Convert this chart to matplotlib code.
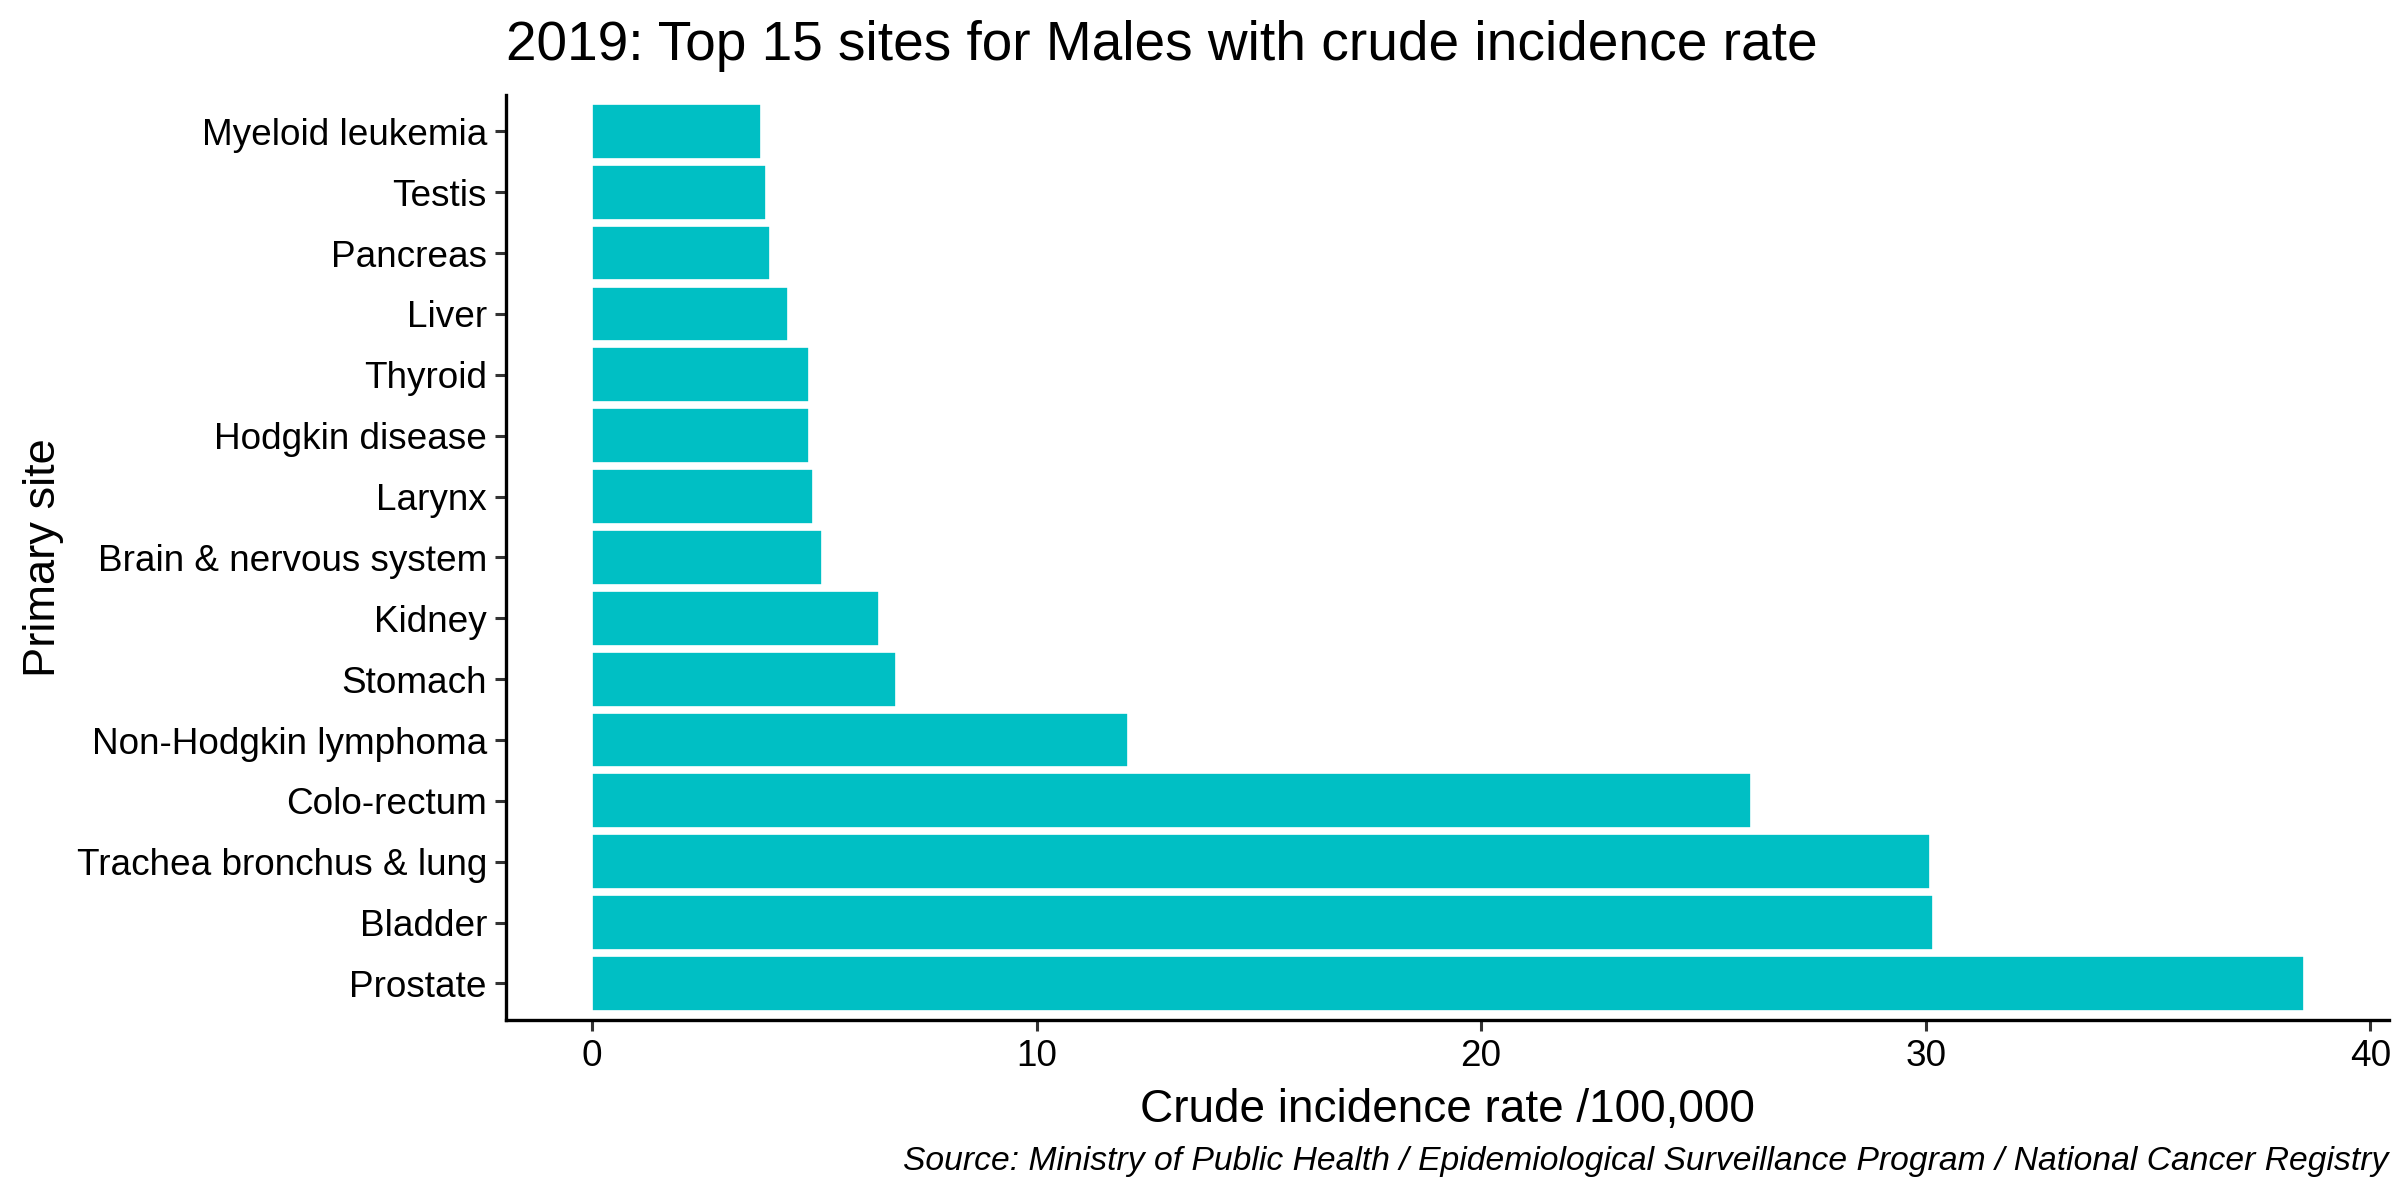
import matplotlib
matplotlib.use("Agg")
import matplotlib.pyplot as plt

plt.rcParams['font.family'] = ['Liberation Sans', 'DejaVu Sans']

# data, top to bottom as drawn
sites = ["Myeloid leukemia", "Testis", "Pancreas", "Liver", "Thyroid",
         "Hodgkin disease", "Larynx", "Brain & nervous system", "Kidney",
         "Stomach", "Non-Hodgkin lymphoma", "Colo-rectum",
         "Trachea bronchus & lung", "Bladder", "Prostate"]
rates = [3.80, 3.91, 4.00, 4.40, 4.89, 4.89, 4.98, 5.18, 6.45, 6.83,
         12.05, 26.08, 30.10, 30.17, 38.50]

bar_color = "#00BFC4"

fig = plt.figure(figsize=(12, 6), dpi=200)
ax = fig.add_axes([0.2110, 0.15, 0.7845, 0.771])

# plot bottom-up so Prostate sits at the bottom
ypos = list(range(len(sites)))[::-1]
ax.barh(ypos, rates, height=0.9, color=bar_color, edgecolor="white", linewidth=0.6)

ax.set_yticks(range(len(sites)))
ax.set_yticklabels(sites[::-1], fontsize=13.3)
ax.set_ylim(-0.6, len(sites) - 0.4)

xmax = max(rates)
ax.set_xlim(-0.05 * xmax, xmax * 1.05)
ax.set_xticks([0, 10, 20, 30, 40])
ax.tick_params(axis="x", labelsize=13.3, length=4, width=1.1, color="#333333", pad=3)
ax.tick_params(axis="y", length=4, width=1.1, color="#333333", pad=3)

for s in ["top", "right"]:
    ax.spines[s].set_visible(False)
for s in ["left", "bottom"]:
    ax.spines[s].set_linewidth(1.2)
    ax.spines[s].set_color("black")

ax.set_xlabel("Crude incidence rate /100,000", fontsize=16.5, labelpad=5)
fig.text(0.018, 0.535, "Primary site", rotation=90, fontsize=16.3, va="center", ha="center")

fig.text(0.2110, 0.962, "2019: Top 15 sites for Males with crude incidence rate",
         fontsize=19.8, ha="left", va="center")
fig.text(0.995, 0.032, "Source: Ministry of Public Health / Epidemiological Surveillance Program / National Cancer Registry",
         fontsize=12.1, style="italic", ha="right", va="center")

fig.savefig("out.png", dpi=200, facecolor="white")
